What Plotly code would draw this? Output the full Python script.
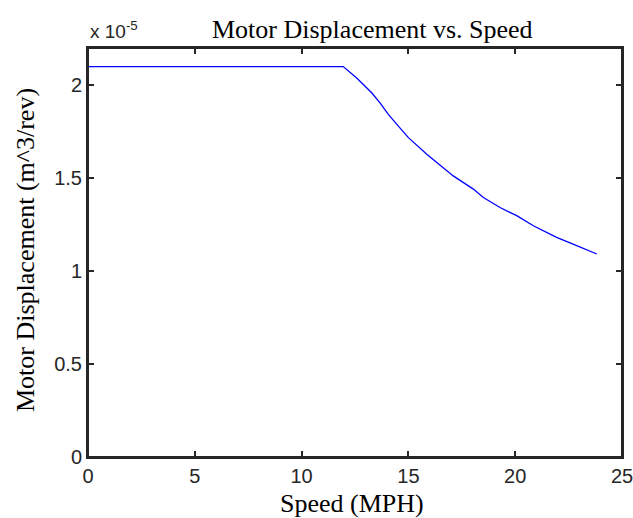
import plotly.graph_objects as go

# Speed (MPH)
speed = [0, 11.95, 12.58, 13.28, 13.67, 14.06, 14.53, 15.00, 15.86, 16.71, 17.10,
         18.04, 18.51, 19.29, 20.07, 20.85, 21.94, 22.88, 23.82]
# Motor displacement, in units of 1e-5 m^3/rev
disp_e5 = [2.10, 2.10, 2.039, 1.959, 1.905, 1.843, 1.780, 1.718, 1.628, 1.548, 1.512,
           1.441, 1.396, 1.342, 1.298, 1.244, 1.181, 1.137, 1.092]
SCALE = 1e-5
disp = [v * SCALE for v in disp_e5]

x_ticks = [0, 5, 10, 15, 20, 25]
y_tick_labels = ["0", "0.5", "1", "1.5", "2"]
y_tick_vals = [float(t) * SCALE for t in y_tick_labels]

TICKFONT = dict(family="Liberation Sans, Arial", size=20, color="#262626")
SERIF = dict(family="Liberation Serif, Times New Roman", size=26, color="black")

fig = go.Figure()
fig.add_trace(go.Scatter(x=speed, y=disp, mode="lines",
                         line=dict(color="#0000ff", width=1.3), showlegend=False))

axis_common = dict(showline=True, linecolor="#262626", linewidth=2, mirror="allticks",
                   ticks="inside", ticklen=6, tickwidth=1.5, tickcolor="#262626",
                   showgrid=False, zeroline=False, automargin=False, tickfont=TICKFONT,
                   ticklabeloverflow="allow")

fig.update_xaxes(range=[0, 25], tickvals=x_ticks, **axis_common)
fig.update_yaxes(range=[0, 2.2 * SCALE], tickvals=y_tick_vals, ticktext=y_tick_labels,
                 **axis_common)

fig.add_shape(type="rect", xref="paper", yref="paper", x0=0, y0=0, x1=1, y1=1,
              line=dict(color="#262626", width=2), layer="above")

fig.update_layout(
    width=633, height=518,
    margin=dict(l=88, r=11, t=48, b=61),
    paper_bgcolor="white", plot_bgcolor="white",
    annotations=[
        dict(text="Motor Displacement vs. Speed", xref="paper", yref="paper",
             x=0.532, y=1.0, yshift=2, xanchor="center", yanchor="bottom", showarrow=False,
             font=SERIF),
        dict(text="x 10<sup>-5</sup>", xref="paper", yref="paper",
             x=0.0, y=1.0, yshift=4, xanchor="left", yanchor="bottom", showarrow=False,
             font=dict(family="Liberation Sans, Arial", size=19, color="#262626")),
        dict(text="Speed (MPH)", xref="paper", yref="paper",
             x=0.494, y=0, yshift=-46, xanchor="center", yanchor="middle", showarrow=False,
             font=SERIF),
        dict(text="Motor Displacement (m^3/rev)", xref="paper", yref="paper",
             x=0, xshift=-63, y=0.506, xanchor="center", yanchor="middle", showarrow=False,
             textangle=-90, font=SERIF),
    ],
)

fig.write_html("out.html", config={"displayModeBar": False},
               post_script="document.body.style.margin='0px';")
